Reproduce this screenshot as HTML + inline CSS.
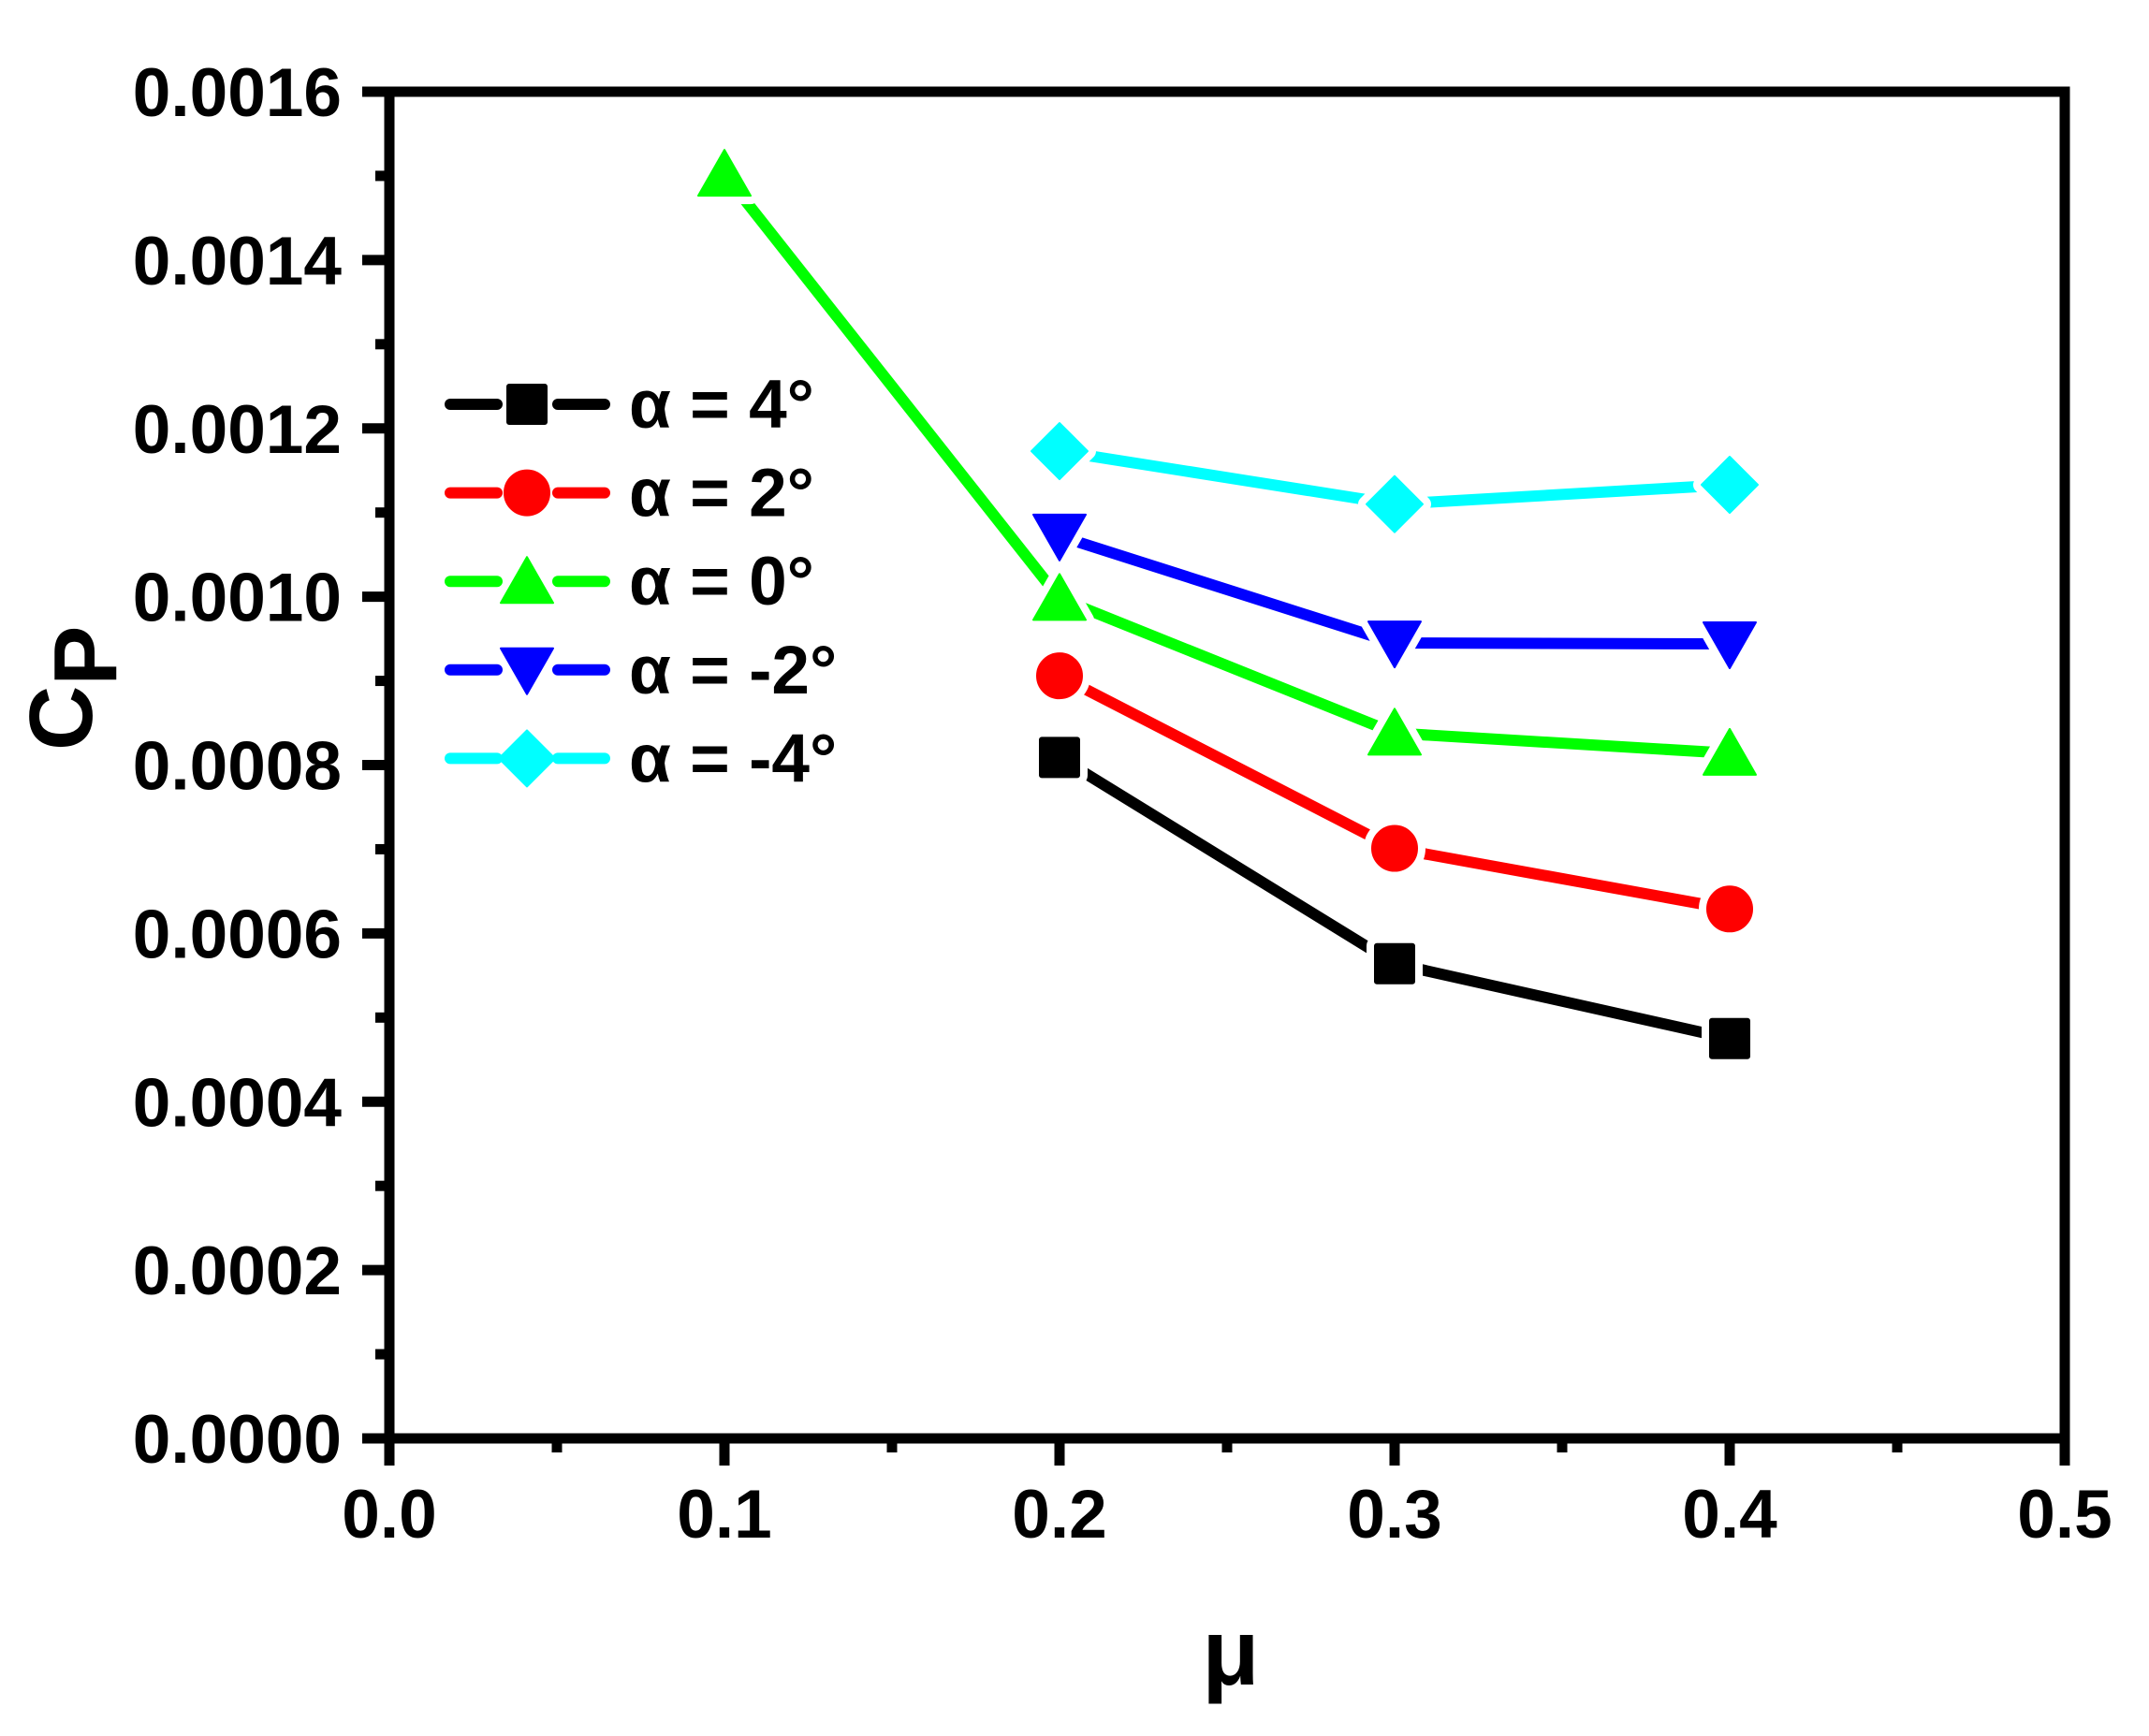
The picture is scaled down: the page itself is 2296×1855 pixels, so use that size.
<!DOCTYPE html>
<html><head><meta charset="utf-8"><style>
html,body{margin:0;padding:0;background:#fff;}
svg{display:block;}
text{font-family:"Liberation Sans",Arial,sans-serif;font-weight:bold;fill:#000;}
</style></head><body>
<svg id="chart" width="2296" height="1855" viewBox="0 0 2296 1855" xmlns="http://www.w3.org/2000/svg">
<g id="plot"></g>
</svg>
<script>
const xCategories = [0.1, 0.2, 0.3, 0.4];
const seriesNames = ['α = 4°','α = 2°','α = 0°','α = -2°','α = -4°'];
const seriesColors = ['#000000','#ff0000','#00ff00','#0000ff','#00ffff'];
const seriesMarkers = ['square','circle','triangle','down','diamond'];
const alpha4 = [null, 0.000809, 0.000564, 0.000475];
const alpha2 = [null, 0.000906, 0.000701, 0.000629];
const alpha0 = [0.001502, 0.000998, 0.000838, 0.000814];
const alphaM2 = [null, 0.001072, 0.000945, 0.000944];
const alphaM4 = [null, 0.001173, 0.00111, 0.001133];
const xTickValues = [0.0,0.1,0.2,0.3,0.4,0.5];
const xTickLabels = ['0.0','0.1','0.2','0.3','0.4','0.5'];
const yTickValues = [0,0.0002,0.0004,0.0006,0.0008,0.0010,0.0012,0.0014,0.0016];
const yTickLabels = ['0.0000','0.0002','0.0004','0.0006','0.0008','0.0010','0.0012','0.0014','0.0016'];

const allSeries = [alpha4, alpha2, alpha0, alphaM2, alphaM4];
const L=416, R=2206, T=98, B=1537;
const xScale = v => L + (v-0)/(0.5-0)*(R-L);
const yScale = v => B - (v-0)/(0.0016-0)*(B-T);
const NS='http://www.w3.org/2000/svg';
const g = document.getElementById('plot');
function mk(tag, attrs, parent){const e=document.createElementNS(NS,tag);for(const k in attrs)e.setAttribute(k,attrs[k]);(parent||g).appendChild(e);return e;}

function markerShape(type, cx, cy, fill, stroke, sw, parent){
  let e;
  if(type==='square') e=mk('rect',{x:cx-21,y:cy-21,width:42,height:42,rx:2},parent);
  else if(type==='circle') e=mk('circle',{cx:cx,cy:cy,r:24},parent);
  else if(type==='triangle') e=mk('polygon',{points:`${cx},${cy-26} ${cx+28},${cy+23} ${cx-28},${cy+23}`},parent);
  else if(type==='down') e=mk('polygon',{points:`${cx},${cy+26} ${cx+28},${cy-23} ${cx-28},${cy-23}`},parent);
  else e=mk('polygon',{points:`${cx},${cy-30} ${cx+30},${cy} ${cx},${cy+30} ${cx-30},${cy}`},parent);
  e.setAttribute('fill',fill);
  if(stroke){e.setAttribute('stroke',stroke);e.setAttribute('stroke-width',sw);e.setAttribute('stroke-linejoin','round');}
  else {e.setAttribute('stroke',fill);e.setAttribute('stroke-width',2);e.setAttribute('stroke-linejoin','round');}
  return e;
}

allSeries.forEach((vals, si)=>{
  const sg = mk('g',{});
  
  
  const pts=[];
  vals.forEach((v,i)=>{ if(v!==null) pts.push([xScale(xCategories[i]), yScale(v)]); });
  const line = mk('polyline',{points:pts.map(p=>p.join(',')).join(' '),fill:'none',stroke:seriesColors[si],'stroke-width':12,'stroke-linecap':'round','stroke-linejoin':'round'},sg);
  
  
  pts.forEach(p=>{ const h=markerShape(seriesMarkers[si],p[0],p[1],'#fff','#fff',18,sg);
    
     });
  pts.forEach(p=>{ const m=markerShape(seriesMarkers[si],p[0],p[1],seriesColors[si],null,0,sg);
    
     });
});

const frame = mk('rect',{x:L,y:T,width:R-L,height:B-T,fill:'none',stroke:'#000','stroke-width':11});



yTickValues.forEach((v,i)=>{
  const y=yScale(v);
  const t=mk('line',{x1:L-29,y1:y,x2:L,y2:y,stroke:'#000','stroke-width':11});
  
  
  const lb=mk('text',{x:365,y:y+26,'text-anchor':'end','font-size':73});
  lb.textContent=yTickLabels[i];
  
  
  if(i<yTickValues.length-1){
    const ym=yScale(v+0.0001);
    const mt=mk('line',{x1:L-15,y1:ym,x2:L,y2:ym,stroke:'#000','stroke-width':11});
    
    
  }
});
xTickValues.forEach((v,i)=>{
  const x=xScale(v);
  const t=mk('line',{x1:x,y1:B,x2:x,y2:B+29,stroke:'#000','stroke-width':11});
  
  
  const lb=mk('text',{x:x,y:1643,'text-anchor':'middle','font-size':73});
  lb.textContent=xTickLabels[i];
  
  
  if(i<xTickValues.length-1){
    const xm=xScale(v+0.05);
    const mt=mk('line',{x1:xm,y1:B,x2:xm,y2:B+15,stroke:'#000','stroke-width':11});
    
    
  }
});

const xt=mk('text',{x:1315,y:1800,'text-anchor':'middle','font-size':100});
xt.textContent='μ';


const yt=mk('text',{x:0,y:0,'font-size':96,transform:'translate(98,802) rotate(-90)'});


yt.innerHTML='C<tspan dx="0" dy="26">P</tspan>';

const lg=mk('g',{});


seriesNames.forEach((n,i)=>{
  const cy=432+i*94.6;
  const eg=mk('g',{},lg);
  
  
  mk('line',{x1:481,y1:cy,x2:531,y2:cy,stroke:seriesColors[i],'stroke-width':12,'stroke-linecap':'round'},eg);
  mk('line',{x1:596,y1:cy,x2:646,y2:cy,stroke:seriesColors[i],'stroke-width':12,'stroke-linecap':'round'},eg);
  markerShape(seriesMarkers[i],563,cy,seriesColors[i],null,0,eg);
  const t=mk('text',{x:672,y:cy+25,'font-size':73},eg);
  t.textContent=n;
  
  
});
</script>
</body></html>
